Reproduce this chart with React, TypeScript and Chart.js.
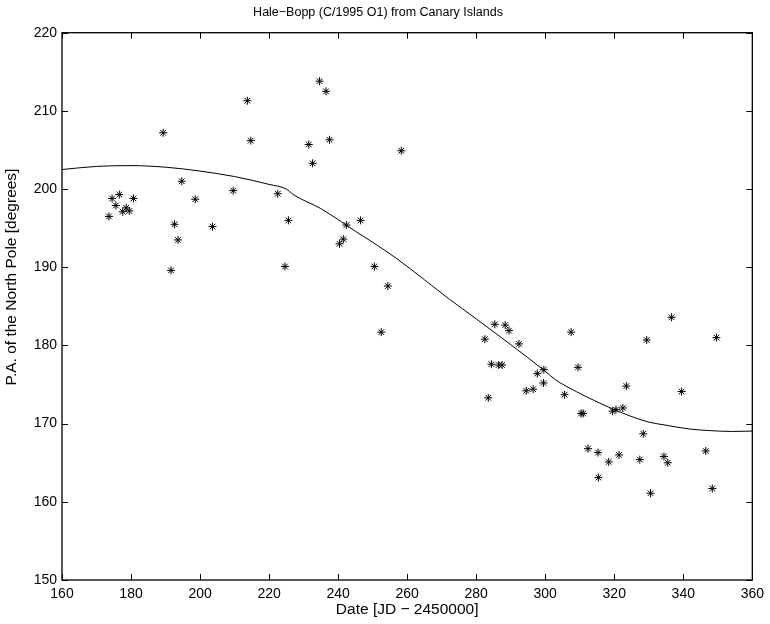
import React, { useEffect, useRef } from "react";
import { Chart, registerables } from "chart.js";

Chart.register(...registerables);

const titleText = "Hale\u2212Bopp (C/1995 O1) from Canary Islands";
const xTitle = "Date [JD \u2212 2450000]";
const yTitle = "P.A. of the North Pole [degrees]";

// Observations (JD - 2450000, position angle in degrees)
const obsDates = [
  173.6, 174.5, 176.6, 175.6, 177.6, 178.6, 179.5, 180.7, 189.3, 194.7,
  198.6, 192.6, 193.6, 191.6, 209.6, 203.6, 213.7, 214.7, 222.5, 225.6,
  224.6, 231.5, 232.6, 234.6, 236.5, 237.5, 240.4, 241.5, 242.4, 246.5,
  250.5, 254.4, 252.5, 258.3, 282.5, 285.4, 288.4, 289.5, 292.4, 284.4,
  286.5, 287.5, 297.7, 299.6, 283.5, 294.5, 296.5, 299.5, 307.5, 309.5,
  305.6, 310.4, 311.0, 319.5, 320.5, 322.5, 323.5, 329.4, 336.6, 349.6,
  339.5, 328.4, 312.4, 315.3, 318.4, 321.4, 315.4, 327.4, 330.5, 334.4,
  335.5, 346.5, 348.4,
];
const obsPA = [
  196.5, 198.8, 199.3, 197.9, 197.1, 197.6, 197.2, 198.8, 207.2, 201.0,
  198.7, 195.5, 193.5, 189.6, 199.8, 195.2, 211.3, 206.2, 199.4, 196.0,
  190.1, 205.7, 203.3, 213.8, 212.5, 206.3, 193.0, 193.6, 195.4, 196.0,
  190.1, 187.6, 181.7, 204.9, 180.8, 182.7, 182.6, 181.9, 180.2, 177.6,
  177.5, 177.5, 176.4, 176.9, 173.3, 174.2, 174.4, 175.2, 181.7, 177.2,
  173.7, 171.3, 171.3, 171.6, 171.8, 172.0, 174.8, 180.7, 183.6, 181.0,
  174.1, 168.7, 166.8, 166.3, 165.1, 166.0, 163.1, 165.4, 161.1, 165.8,
  165.0, 166.5, 161.7,
];

// Model curve
const fitDates = [
  160, 170, 180, 190, 200, 210, 220, 225, 227, 235, 240, 245, 250, 257,
  265, 272, 280, 290, 300, 303, 309, 314, 322.7, 330, 335, 342, 348, 354, 360,
];
const fitPA = [
  202.5, 202.9, 203.0, 202.8, 202.3, 201.6, 200.6, 200.0, 199.3, 197.5,
  196.1, 194.6, 193.2, 191.1, 188.4, 186.0, 183.4, 180.1, 176.7, 175.6,
  174.1, 173.0, 171.3, 170.2, 169.8, 169.3, 169.1, 169.0, 169.05,
];

const xTicks = [160, 180, 200, 220, 240, 260, 280, 300, 320, 340, 360];
const yTicks = [150, 160, 170, 180, 190, 200, 210, 220];

const FONT = "'Liberation Sans', Arial, Helvetica, sans-serif";
const TICK_FS = 14;
const LABEL_FS = 15.5;
const TITLE_FS = 12.5;

const boxTicks = {
  id: "boxTicks",
  afterDraw(chart: any) {
    const { ctx, chartArea: a, scales } = chart;
    const L = 6;
    ctx.save();
    ctx.strokeStyle = "#000";
    ctx.lineWidth = 1;
    ctx.beginPath();
    for (const v of xTicks) {
      const px = Math.round(scales.x.getPixelForValue(v)) + 0.5;
      ctx.moveTo(px, a.bottom);
      ctx.lineTo(px, a.bottom - L);
      ctx.moveTo(px, a.top);
      ctx.lineTo(px, a.top + L);
    }
    for (const v of yTicks) {
      const py = Math.round(scales.y.getPixelForValue(v)) + 0.5;
      ctx.moveTo(a.left, py);
      ctx.lineTo(a.left + L, py);
      ctx.moveTo(a.right, py);
      ctx.lineTo(a.right - L, py);
    }
    ctx.stroke();
    ctx.lineWidth = 1.3;
    ctx.strokeRect(a.left, a.top, a.right - a.left, a.bottom - a.top);
    // y axis label
    ctx.translate(12, 277);
    ctx.rotate(-Math.PI / 2);
    ctx.fillStyle = "#000";
    ctx.font = `${LABEL_FS}px ${FONT}`;
    ctx.textAlign = "center";
    ctx.textBaseline = "middle";
    ctx.fillText(yTitle, 0, 0);
    ctx.restore();
  },
};

export default function App() {
  const ref = useRef<HTMLCanvasElement | null>(null);
  useEffect(() => {
    if (!ref.current) return;
    const chart = new Chart(ref.current, {
      type: "scatter",
      data: {
        datasets: [
          {
            label: "fit",
            data: fitDates.map((x, i) => ({ x, y: fitPA[i] })),
            showLine: true,
            borderColor: "#000",
            borderWidth: 1,
            pointRadius: 0,
            cubicInterpolationMode: "monotone",
            order: 2,
          } as any,
          {
            label: "obs",
            data: obsDates.map((x, i) => ({ x, y: obsPA[i] })),
            pointStyle: "star",
            pointRadius: 4,
            borderColor: "#000",
            backgroundColor: "#000",
            borderWidth: 1,
            order: 1,
          } as any,
        ],
      },
      options: {
        animation: false,
        responsive: false,
        layout: { padding: { left: 0, right: 14, top: 0, bottom: 0 } },
        plugins: {
          legend: { display: false },
          tooltip: { enabled: false },
          title: {
            display: true,
            text: titleText,
            color: "#000",
            font: { family: FONT, size: TITLE_FS, weight: "normal" },
            padding: { top: 5.5, bottom: 12.2 },
          },
        },
        scales: {
          x: {
            type: "linear",
            min: 160,
            max: 360,
            afterBuildTicks: (s: any) => {
              s.ticks = xTicks.map((v) => ({ value: v }));
            },
            afterFit: (s: any) => {
              s.height = 44;
            },
            grid: { display: false, drawTicks: false },
            border: { display: false },
            ticks: {
              color: "#000",
              padding: 6,
              maxRotation: 0,
              font: { family: FONT, size: TICK_FS },
            },
            title: {
              display: true,
              text: xTitle,
              color: "#000",
              font: { family: FONT, size: LABEL_FS },
              padding: { top: 0, bottom: 5 },
            },
          },
          y: {
            type: "linear",
            min: 150,
            max: 220,
            afterBuildTicks: (s: any) => {
              s.ticks = yTicks.map((v) => ({ value: v }));
            },
            afterFit: (s: any) => {
              s.width = 62;
            },
            grid: { display: false, drawTicks: false },
            border: { display: false },
            ticks: {
              color: "#000",
              padding: 5,
              font: { family: FONT, size: TICK_FS },
            },
            title: { display: false },
          },
        },
      },
      plugins: [boxTicks],
    });
    return () => chart.destroy();
  }, []);
  return (
    <div style={{ position: "absolute", left: 0, top: 0, width: 770, height: 624, background: "#fff" }}>
      <canvas ref={ref} width={770} height={624} style={{ display: "block" }} />
    </div>
  );
}
